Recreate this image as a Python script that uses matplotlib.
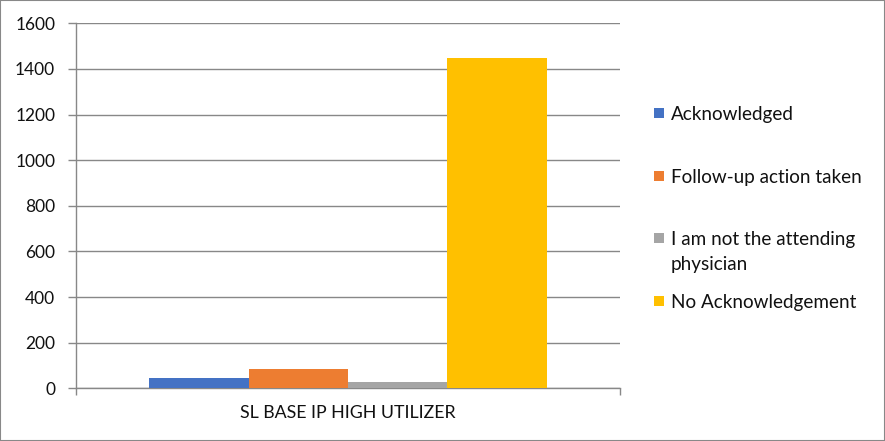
import matplotlib.pyplot as plt
import numpy as np
from matplotlib.patches import Rectangle

# data
category = "SL BASE IP HIGH UTILIZER"
series = ["Acknowledged", "Follow-up action taken",
          "I am not the attending\nphysician", "No Acknowledgement"]
values = [45, 85, 28, 1448]
colors = ["#4472C4", "#ED7D31", "#A5A5A5", "#FFC000"]
yticks = [0, 200, 400, 600, 800, 1000, 1200, 1400, 1600]

plt.rcParams['font.family'] = ['Lato', 'DejaVu Sans']
W, H = 885, 441
fig = plt.figure(figsize=(W / 100, H / 100), dpi=100)
ax = fig.add_axes([76 / W, 1 - 388.3 / H, 544 / W, 365 / H])

grid_col = "#888888"
txt_col = "#111111"
group = 0.73
bw = group / len(values)
for k, (v, c) in enumerate(zip(values, colors)):
    x = -group / 2 + bw * (k + 0.5)
    ax.bar(x, v, width=bw, color=c, zorder=3)

ax.set_xlim(-0.5, 0.5)
ax.set_ylim(0, 1600)
ax.set_yticks(yticks)
ax.yaxis.grid(True, color=grid_col, linewidth=1, zorder=0)
ax.tick_params(axis='y', length=6, width=1, color=grid_col, pad=9,
               labelsize=12.5, labelcolor=txt_col)

# category label as minor tick, boundary ticks as major
ax.set_xticks([-0.5, 0.5])
ax.set_xticklabels(["", ""])
ax.set_xticks([0], minor=True)
ax.set_xticklabels([category], minor=True)
ax.tick_params(axis='x', which='major', length=5, width=1, color=grid_col)
ax.tick_params(axis='x', which='minor', length=0, pad=12,
               labelsize=12.8, labelcolor=txt_col)

for s in ["top", "right"]:
    ax.spines[s].set_visible(False)
for s in ["left", "bottom"]:
    ax.spines[s].set_color(grid_col)
    ax.spines[s].set_linewidth(1)

# legend drawn by hand on the right
leg_y = [113, 176, 238, 301]
for lab, c, yc in zip(series, colors, leg_y):
    fig.add_artist(Rectangle((654 / W, 1 - (yc + 5) / H), 10 / W, 10 / H,
                             transform=fig.transFigure, color=c, lw=0))
    fig.text(671 / W, 1 - (yc - 7) / H, lab, fontsize=13.6, color=txt_col,
             va='top', ha='left', linespacing=1.6)

# chart border
fig.add_artist(Rectangle((0, 0), 1, 1, transform=fig.transFigure,
                         fill=False, edgecolor=grid_col, lw=1.5))

fig.savefig("out.png", dpi=100)
